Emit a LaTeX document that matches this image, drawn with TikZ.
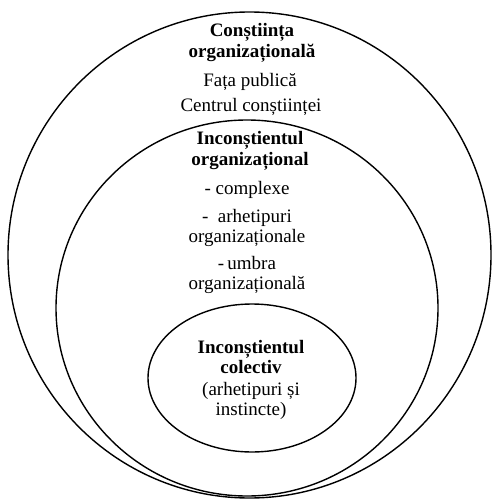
\documentclass[tikz,border=0pt]{standalone}
\usepackage{fontspec}
\setmainfont{Liberation Serif}
\usetikzlibrary{shapes.geometric}
\begin{document}
\begin{tikzpicture}[x=1pt,y=-1pt,
  ring/.style={draw=black,line width=1.4pt},
  txt/.style={align=center,inner sep=0pt,font=\fontsize{19}{20}\selectfont},
  hd/.style={txt,font=\fontsize{19}{20.5}\selectfont\bfseries}]
\useasboundingbox (0,0) rectangle (492,500);
\fill[white] (0,0) rectangle (492,500);
\draw[ring] (249.5,255) ellipse [x radius=241.5, y radius=243];
\draw[ring] (247,308) ellipse [x radius=191, y radius=188];
\draw[ring] (252,378) ellipse [x radius=104, y radius=74];
\node[hd] (h1) at (252,43) {Conștiința\\organizațională};
\node[txt] (t1) at (250,82) {Fața publică};
\node[txt] (t2) at (251,107) {Centrul conștiinței};
\node[hd] (h2) at (250,151) {Inconștientul\\organizațional};
\node[txt] (t3) at (247,190) {- complexe};
\node[txt] (t4) at (247,228) {- \ arhetipuri\\organizaționale};
\node[txt] (t5) at (247,275) {-\,umbra\\organizațională};
\node[hd] (h3) at (251,357) {Inconștientul\\colectiv};
\node[txt] (t6) at (251,401) {(arhetipuri și\\instincte)};
\end{tikzpicture}
\end{document}
